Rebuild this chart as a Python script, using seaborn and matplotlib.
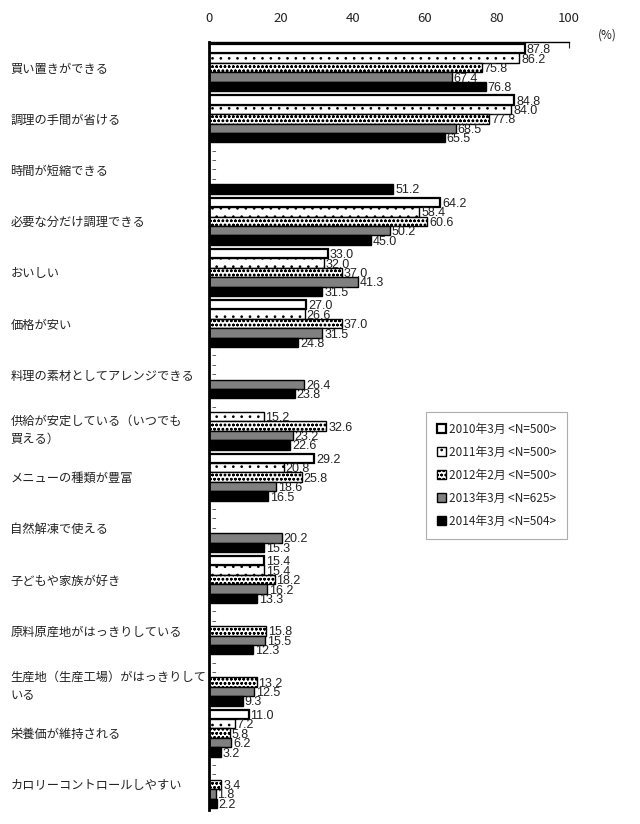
import numpy as np
import pandas as pd
import seaborn as sns
import matplotlib.pyplot as plt
from matplotlib.patches import Patch

sns.set_style("white")
plt.rcParams["font.family"] = ["Noto Sans CJK JP", "DejaVu Sans"]
plt.rcParams["hatch.linewidth"] = 0.7

categories = [
    "買い置きができる",
    "調理の手間が省ける",
    "時間が短縮できる",
    "必要な分だけ調理できる",
    "おいしい",
    "価格が安い",
    "料理の素材としてアレンジできる",
    "供給が安定している（いつでも\n買える）",
    "メニューの種類が豊富",
    "自然解凍で使える",
    "子どもや家族が好き",
    "原料原産地がはっきりしている",
    "生産地（生産工場）がはっきりして\nいる",
    "栄養価が維持される",
    "カロリーコントロールしやすい",
]
series = [
    "2010年3月 <N=500>",
    "2011年3月 <N=500>",
    "2012年2月 <N=500>",
    "2013年3月 <N=625>",
    "2014年3月 <N=504>",
]
v2010 = [87.8, 84.8, None, 64.2, 33.0, 27.0, None, None, 29.2, None, 15.4, None, None, 11.0, None]
v2011 = [86.2, 84.0, None, 58.4, 32.0, 26.6, None, 15.2, 20.8, None, 15.4, None, None, 7.2, None]
v2012 = [75.8, 77.8, None, 60.6, 37.0, 37.0, None, 32.6, 25.8, None, 18.2, 15.8, 13.2, 5.8, 3.4]
v2013 = [67.4, 68.5, None, 50.2, 41.3, 31.5, 26.4, 23.2, 18.6, 20.2, 16.2, 15.5, 12.5, 6.2, 1.8]
v2014 = [76.8, 65.5, 51.2, 45.0, 31.5, 24.8, 23.8, 22.6, 16.5, 15.3, 13.3, 12.3, 9.3, 3.2, 2.2]
values = [v2010, v2011, v2012, v2013, v2014]

# bar styles per survey: facecolor, hatch, edge width
styles = [
    ("white", "", 1.6),
    ("white", "..", 1.0),
    ("white", "oooo", 1.0),
    ("#808080", "", 1.0),
    ("black", "", 1.0),
]

rows = []
for s, vals in zip(series, values):
    for c, v in zip(categories, vals):
        rows.append({"category": c, "series": s, "value": 0.0 if v is None else v})
df = pd.DataFrame(rows)

fig = plt.figure(figsize=(6.4, 8.24), dpi=100)
ax = fig.add_axes([0.3266, 0.017, 0.5625, 0.932])

sns.barplot(data=df, y="category", x="value", hue="series", order=categories,
            hue_order=series, orient="h", width=0.92, dodge=True,
            saturation=1, legend=False, ax=ax)

for cont, (fc, hatch, lw), vals in zip(ax.containers, styles, values):
    for p in cont.patches:
        yc = p.get_y() + p.get_height() / 2
        v = vals[int(round(yc))]
        p.set_facecolor(fc)
        p.set_edgecolor("black")
        p.set_hatch(hatch)
        p.set_linewidth(lw)
        if v is None:
            # no data for this year: a short dash
            p.set_visible(False)
            ax.text(0.8, yc, "–", ha="left", va="center", fontsize=6.5,
                    color="#333333", family=["DejaVu Sans"])
        else:
            ax.text(v + 0.5, yc + 0.03, f"{v:.1f}", ha="left", va="center",
                    fontsize=9, color="#222222",
                    family=["Liberation Sans", "DejaVu Sans"])

ax.set_xlim(0, 100)
ax.set_ylim(len(categories) - 0.5, -0.5)
ax.xaxis.tick_top()
ax.set_xticks(range(0, 101, 20))
ax.tick_params(axis="x", direction="in", length=4, width=0.8, pad=12,
               labelsize=9.5, colors="#222222")
ax.tick_params(axis="y", length=0, pad=143, labelsize=8.8, colors="#222222")
for lab in ax.get_yticklabels():
    lab.set_horizontalalignment("left")
    lab.set_linespacing(1.5)
ax.set_xlabel("")
ax.set_ylabel("")
for side in ["right", "bottom"]:
    ax.spines[side].set_visible(False)
ax.spines["left"].set_linewidth(2.0)
ax.spines["left"].set_color("black")
ax.spines["top"].set_linewidth(1.0)
ax.spines["top"].set_color("black")
ax.text(1.08, 1.0, "(%)", transform=ax.transAxes, ha="left", va="bottom",
        fontsize=8.5, color="#222222")

handles = [Patch(facecolor=fc, edgecolor="black", hatch=h, linewidth=lw)
           for fc, h, lw in styles]
leg = ax.legend(handles, series, loc="upper right",
                bbox_to_anchor=(0.994, 0.518), frameon=True, fancybox=False,
                fontsize=8.5, handlelength=0.8, handleheight=0.8,
                handletextpad=0.2, labelspacing=0.85, borderpad=0.9,
                borderaxespad=0)
leg.get_frame().set_edgecolor("#999999")
leg.get_frame().set_linewidth(0.8)

fig.savefig("out.png", dpi=100)
